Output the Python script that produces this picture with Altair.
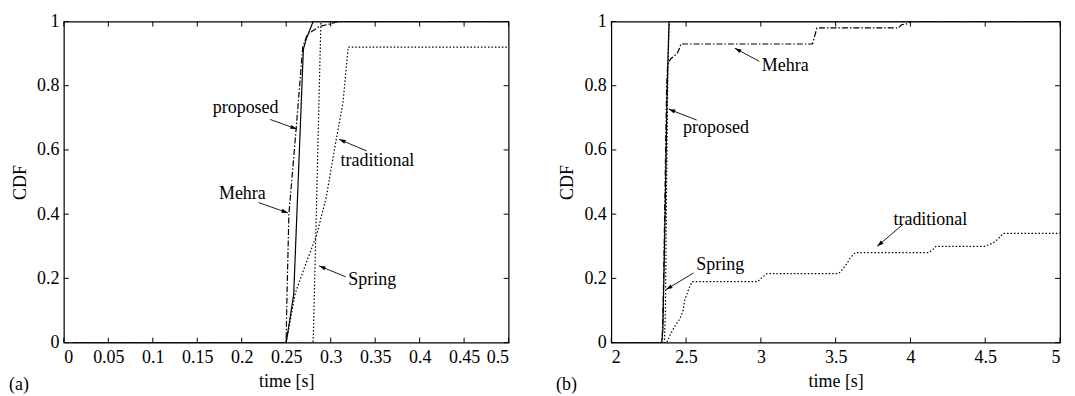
import math
import altair as alt
import pandas as pd

# ---------------- data: panel (a) ----------------
a_prop_x = [0.01, 0.25, 0.2584, 0.2693, 0.2723, 0.2803, 0.5]
a_prop_y = [0.0, 0.0, 0.149, 0.913, 0.944, 1.0, 1.0]
a_mehra_x = [0.01, 0.25, 0.2505, 0.253, 0.2613, 0.2686, 0.2737, 0.2876, 0.3004, 0.3088, 0.5]
a_mehra_y = [0.0, 0.0, 0.1, 0.4, 0.67, 0.92, 0.96, 0.985, 0.993, 1.0, 1.0]
a_spring_x = [0.01, 0.28, 0.2805, 0.289, 0.5]
a_spring_y = [0.0, 0.0, 0.02, 1.0, 1.0]
a_trad_x = [0.01, 0.25, 0.2602, 0.272, 0.284, 0.2949, 0.3058, 0.3139, 0.3197, 0.5]
a_trad_y = [0.0, 0.0, 0.154, 0.245, 0.333, 0.451, 0.626, 0.749, 0.92, 0.92]

a_labels = ["proposed", "Mehra", "traditional", "Spring"]
a_text_x = [0.2044, 0.2007, 0.3526, 0.3467]
a_text_y = [0.73, 0.464, 0.564, 0.195]
a_tail_x = [0.232, 0.219, 0.3405, 0.3168]
a_tail_y = [0.695, 0.436, 0.597, 0.205]
a_head_x = [0.262, 0.252, 0.3095, 0.2869]
a_head_y = [0.665, 0.404, 0.633, 0.239]
a_xticks = [0, 0.05, 0.1, 0.15, 0.2, 0.25, 0.3, 0.35, 0.4, 0.45, 0.5]

# ---------------- data: panel (b) ----------------
b_prop_x = [2.0, 2.337, 2.345, 2.36, 2.372, 2.38, 2.386, 5.0]
b_prop_y = [0.0, 0.0, 0.04, 0.4, 0.75, 0.9, 1.0, 1.0]
b_mehra_x = [2.0, 2.34, 2.35, 2.36, 2.37, 2.377, 2.4, 2.44, 2.455, 2.465,
             3.345, 3.36, 3.375, 3.92, 3.94, 3.98, 4.0, 5.0]
b_mehra_y = [0.0, 0.0, 0.2, 0.5, 0.8, 0.87, 0.885, 0.9, 0.915, 0.93,
             0.93, 0.955, 0.98, 0.98, 0.99, 0.993, 1.0, 1.0]
b_spring_x = [2.0, 2.355, 2.362, 2.37, 2.378, 2.386, 2.39, 5.0]
b_spring_y = [0.0, 0.0, 0.1, 0.5, 0.85, 0.98, 1.0, 1.0]
b_trad_x = [2.0, 2.37, 2.38, 2.4, 2.43, 2.46, 2.48, 2.49, 2.505, 2.52, 2.54,
            2.98, 3.0, 3.04, 3.52, 3.55, 3.58, 3.6, 3.63, 4.12, 4.15, 4.17,
            4.5, 4.55, 4.58, 4.6, 4.62, 5.0]
b_trad_y = [0.0, 0.0, 0.01, 0.03, 0.055, 0.075, 0.1, 0.13, 0.15, 0.17, 0.19,
            0.19, 0.2, 0.215, 0.215, 0.23, 0.25, 0.265, 0.28, 0.28, 0.29, 0.3,
            0.3, 0.31, 0.32, 0.33, 0.34, 0.34]

b_labels = ["Mehra", "proposed", "Spring", "traditional"]
b_text_x = [3.163, 2.70, 2.728, 4.133]
b_text_y = [0.861, 0.667, 0.243, 0.383]
b_tail_x = [2.989, 2.571, 2.55, 3.952]
b_tail_y = [0.876, 0.693, 0.217, 0.369]
b_head_x = [2.826, 2.384, 2.366, 3.778]
b_head_y = [0.917, 0.727, 0.165, 0.30]
b_xticks = [2, 2.5, 3, 3.5, 4, 4.5, 5]

y_ticks = [0, 0.2, 0.4, 0.6, 0.8, 1]

# ---------------- style ----------------
FONT = "Liberation Serif"
FS = 18
H = 322
W_A = 446
W_B = 450
TICK = 5
SERIES = ["proposed", "Mehra", "Spring", "traditional"]
DASHES = [[1, 0], [6, 2, 1.5, 2], [1.5, 2], [1.5, 2]]
ARROW = "M0,0 L-1,-0.32 L-1,0.32 Z"


def series_frame(pairs):
    rows = []
    for name, xs, ys in pairs:
        for i, (x, y) in enumerate(zip(xs, ys)):
            rows.append({"x": x, "y": y, "s": name, "i": i})
    return pd.DataFrame(rows)


def panel(pairs, labels, tx, ty, ax, ay, hx, hy, xdom, xticks, W, tag):
    xs = alt.Scale(domain=xdom, nice=False, zero=False)
    ys = alt.Scale(domain=[0, 1], nice=False, zero=False)

    df = series_frame(pairs)
    lines = alt.Chart(df).mark_line(color="black", strokeWidth=1.2, clip=True).encode(
        x=alt.X("x:Q", scale=xs, axis=alt.Axis(values=xticks, format="~g", title="time [s]")),
        y=alt.Y("y:Q", scale=ys, axis=alt.Axis(values=y_ticks, format="~g", title="CDF")),
        detail="s:N",
        order="i:Q",
        strokeDash=alt.StrokeDash("s:N", scale=alt.Scale(domain=SERIES, range=DASHES), legend=None),
    )

    xsp = (xdom[1] - xdom[0]) / W
    ang = []
    for a1, b1, a2, b2 in zip(ax, ay, hx, hy):
        dx = (a2 - a1) / xsp
        dy = -(b2 - b1) * H
        ang.append(math.degrees(math.atan2(dy, dx)) % 360)
    ann = pd.DataFrame({"label": labels, "tx": tx, "ty": ty, "ax": ax, "ay": ay,
                        "hx": hx, "hy": hy, "ang": ang})
    texts = alt.Chart(ann).mark_text(font=FONT, fontSize=FS, color="black",
                                     align="center", baseline="middle").encode(
        x=alt.X("tx:Q", scale=xs), y=alt.Y("ty:Q", scale=ys), text="label:N")
    shafts = alt.Chart(ann).mark_rule(color="black", strokeWidth=0.9).encode(
        x=alt.X("ax:Q", scale=xs), y=alt.Y("ay:Q", scale=ys), x2="hx:Q", y2="hy:Q")
    heads = alt.Chart(ann).mark_point(shape=ARROW, filled=True, color="black",
                                      size=170, opacity=1).encode(
        x=alt.X("hx:Q", scale=xs), y=alt.Y("hy:Q", scale=ys),
        angle=alt.Angle("ang:Q", scale=None))

    xt = pd.DataFrame({"tv": xticks})
    yt = pd.DataFrame({"tv": y_ticks})
    xt_bot = alt.Chart(xt).mark_rule(color="black", strokeWidth=1).encode(
        x=alt.X("tv:Q", scale=xs), y=alt.value(H), y2=alt.value(H - TICK))
    xt_top = alt.Chart(xt).mark_rule(color="black", strokeWidth=1).encode(
        x=alt.X("tv:Q", scale=xs), y=alt.value(0), y2=alt.value(TICK))
    yt_l = alt.Chart(yt).mark_rule(color="black", strokeWidth=1).encode(
        y=alt.Y("tv:Q", scale=ys), x=alt.value(0), x2=alt.value(TICK))
    yt_r = alt.Chart(yt).mark_rule(color="black", strokeWidth=1).encode(
        y=alt.Y("tv:Q", scale=ys), x=alt.value(W), x2=alt.value(W - TICK))

    tagc = alt.Chart(pd.DataFrame({"t": [tag]})).mark_text(
        font=FONT, fontSize=FS, color="black", align="center", baseline="middle").encode(
        x=alt.value(-45), y=alt.value(H + 43), text="t:N")

    return alt.layer(lines, xt_bot, xt_top, yt_l, yt_r, shafts, heads, texts, tagc).properties(
        width=W, height=H)


left = panel([("proposed", a_prop_x, a_prop_y), ("Mehra", a_mehra_x, a_mehra_y),
              ("Spring", a_spring_x, a_spring_y), ("traditional", a_trad_x, a_trad_y)],
             a_labels, a_text_x, a_text_y, a_tail_x, a_tail_y, a_head_x, a_head_y,
             [0, 0.5], a_xticks, W_A, "(a)")
right = panel([("proposed", b_prop_x, b_prop_y), ("Mehra", b_mehra_x, b_mehra_y),
               ("Spring", b_spring_x, b_spring_y), ("traditional", b_trad_x, b_trad_y)],
              b_labels, b_text_x, b_text_y, b_tail_x, b_tail_y, b_head_x, b_head_y,
              [2, 5], b_xticks, W_B, "(b)")

chart = alt.hconcat(left, right, spacing=103, bounds="flush").properties(
    padding={"left": 0, "top": 3, "right": 5, "bottom": 2},
).configure_view(
    stroke="black", strokeWidth=1.2
).configure_axis(
    grid=False, domain=False, ticks=False, tickSize=0,
    labelFont=FONT, labelFontSize=FS, labelColor="black",
    titleFont=FONT, titleFontSize=FS, titleColor="black", titleFontWeight="normal",
    labelPadding=3,
).configure_axisX(
    labelPadding=6, titlePadding=6,
).configure_axisY(
    labelPadding=5, titlePadding=7,
)

chart.save("out.html", embed_options={"renderer": "svg", "actions": False})
